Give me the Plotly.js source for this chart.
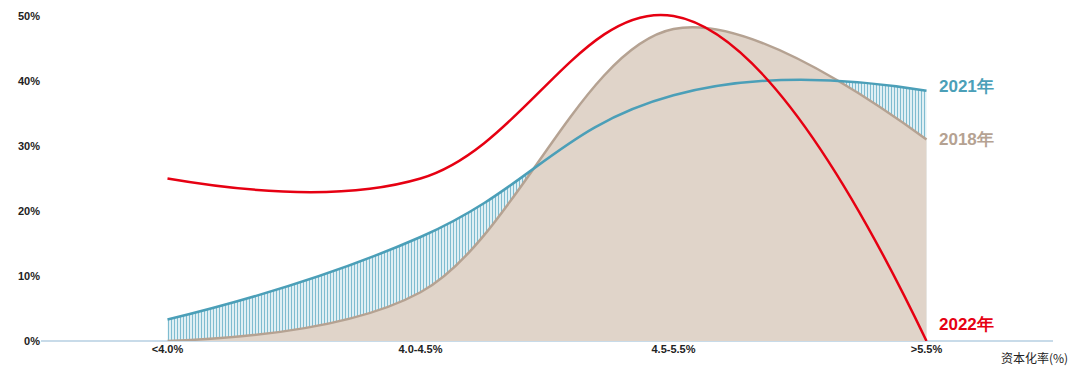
<!DOCTYPE html>
<html><head><meta charset="utf-8">
<script src="https://cdn.plot.ly/plotly-3.0.1.min.js"></script>
<style>html,body{margin:0;padding:0;background:#fff}#c{width:1080px;height:374px}</style>
</head><body><div id="c"></div>
<script>
const categories = ['<4.0%', '4.0-4.5%', '4.5-5.5%', '>5.5%'];
const y2018 = [0, 7.5, 48, 31];
const y2021 = [3.3, 16, 37.8, 38.5];
const y2022 = [25, 25, 50, 0];
const seriesNames = ['2018年', '2021年', '2022年'];
const yTicks = [0, 10, 20, 30, 40, 50];
const xTitle = '资本化率(%)';

const cTeal = '#4b9fb8', cTan = '#b5a292', cTanFill = '#e0d4c9', cRed = '#e60012';
const font = {family: 'Liberation Sans, Arial, sans-serif', size: 11, color: '#222', weight: 'bold'};

const traces = [
  {x: categories, y: y2021, type: 'scatter', mode: 'lines', line: {shape: 'spline', smoothing: 1.3, width: 0, color: cTeal},
   fill: 'tozeroy', fillcolor: 'rgba(0,0,0,0)', fillpattern: {shape: '|', fgcolor: '#7fbcd0', bgcolor: '#f4fafc', size: 3, solidity: 0.45}, hoverinfo: 'skip', showlegend: false},
  {x: categories, y: y2018, type: 'scatter', mode: 'lines', name: seriesNames[0], line: {shape: 'spline', smoothing: 1.0, width: 2.5, color: cTan},
   fill: 'tozeroy', fillcolor: cTanFill, showlegend: false},
  {x: categories, y: y2021, type: 'scatter', mode: 'lines', name: seriesNames[1], line: {shape: 'spline', smoothing: 1.3, width: 2.5, color: cTeal}, showlegend: false},
  {x: categories, y: y2022, type: 'scatter', mode: 'lines', name: seriesNames[2], line: {shape: 'spline', smoothing: 1.15, width: 2.5, color: cRed}, showlegend: false}
];

const last = categories.length - 1;
const layout = {
  width: 1080, height: 374,
  margin: {l: 41, r: 27, t: 3, b: 33},
  paper_bgcolor: '#fff', plot_bgcolor: '#fff',
  showlegend: false,
  xaxis: {type: 'category', range: [-0.5, 3.5], showgrid: false, zeroline: false, showline: false,
          ticks: '', tickfont: font, fixedrange: true},
  yaxis: {range: [0, 52], tickvals: yTicks, ticktext: yTicks.map(v => v + '%'), showgrid: false,
          zeroline: true, zerolinecolor: '#c8dbe9', zerolinewidth: 1.5, showline: false, ticks: '', ticklen: 0,
          tickfont: font, fixedrange: true},
  annotations: [
    {x: categories[last], y: y2021[last] + 0.7, text: seriesNames[1], showarrow: false, xanchor: 'left', xshift: 10,
     font: {family: 'Liberation Sans, Arial, sans-serif', size: 17, color: cTeal, weight: 'bold'}},
    {x: categories[last], y: y2018[last], text: seriesNames[0], showarrow: false, xanchor: 'left', xshift: 10,
     font: {family: 'Liberation Sans, Arial, sans-serif', size: 17, color: cTan, weight: 'bold'}},
    {x: categories[last], y: y2022[last] + 2.6, text: seriesNames[2], showarrow: false, xanchor: 'left', xshift: 10,
     font: {family: 'Liberation Sans, Arial, sans-serif', size: 17, color: cRed, weight: 'bold'}},
    {xref: 'paper', yref: 'paper', x: 1.017, y: 0, yshift: -16, xanchor: 'right', yanchor: 'middle', text: xTitle, showarrow: false,
     font: {family: 'Noto Sans CJK SC, sans-serif', size: 12, color: '#222'}}
  ]
};
Plotly.newPlot('c', traces, layout, {displayModeBar: false, staticPlot: true});
</script></body></html>
